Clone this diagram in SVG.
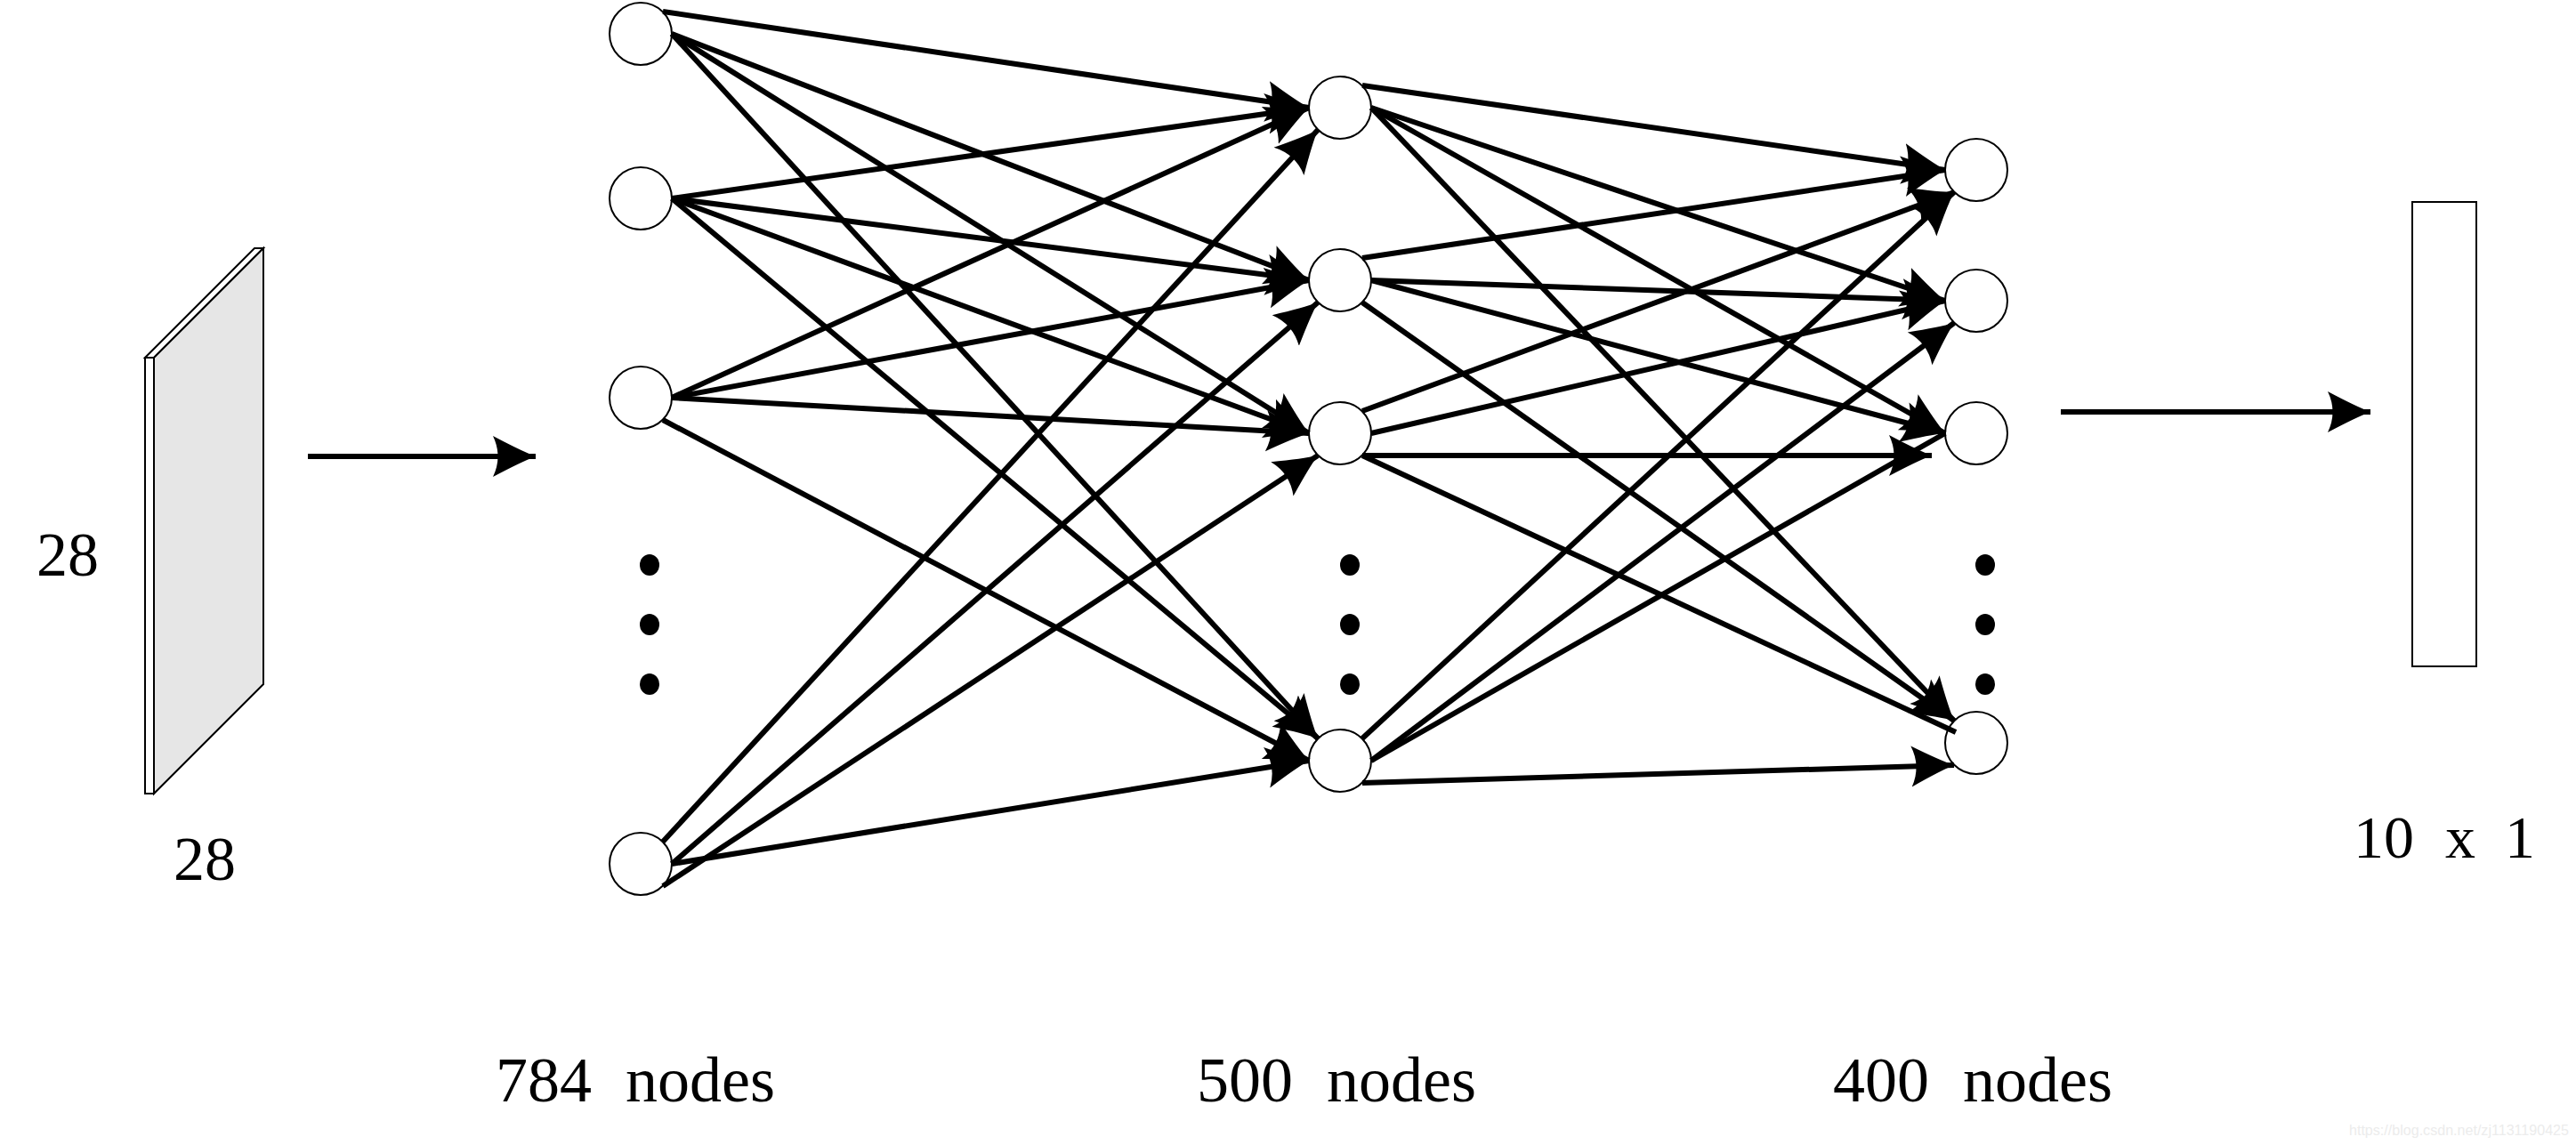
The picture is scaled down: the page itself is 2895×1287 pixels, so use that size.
<svg xmlns="http://www.w3.org/2000/svg" width="2895" height="1287" viewBox="0 0 2895 1287">
<style>
.node{fill:#fff;stroke:#000;stroke-width:2}
.dot{fill:#000}
.edge{fill:none;stroke:#000;stroke-width:6}
.arr{marker-end:url(#head)}
.lbl{font-family:"Liberation Serif","Times New Roman",serif;fill:#000}
.thin{stroke:#000;stroke-width:2;stroke-linejoin:miter}
</style>
<defs>
<marker id="head" markerUnits="userSpaceOnUse" viewBox="0 -25 52 50" markerWidth="52" markerHeight="50" refX="48" refY="0" orient="auto">
<path d="M48,0 Q32,-6 0,-23 Q11,0 0,23 Q32,6 48,0 Z" fill="#000"/>
</marker>
</defs>
<rect width="2895" height="1287" fill="#fff"/>

<g id="input-image">
<polygon class="thin" points="163,402 286,279 296,279 173,402" fill="#fff"/>
<rect class="thin" x="163" y="402" width="10" height="490" fill="#fff"/>
<polygon class="thin" points="173,402 296,279 296,769 173,892" fill="#e6e6e6"/>
<text class="lbl" x="41" y="647" font-size="70">28</text>
<text class="lbl" x="195" y="989" font-size="70">28</text>
</g>

<g id="layer1">
<circle class="node" cx="720" cy="38" r="35"/>
<circle class="node" cx="720" cy="223" r="35"/>
<circle class="node" cx="720" cy="447" r="35"/>
<circle class="node" cx="720" cy="971" r="35"/>
<ellipse class="dot" cx="730" cy="635" rx="11" ry="12"/>
<ellipse class="dot" cx="730" cy="702" rx="11" ry="12"/>
<ellipse class="dot" cx="730" cy="769" rx="11" ry="12"/>
<text class="lbl" x="557" y="1238" font-size="72" word-spacing="20">784 nodes</text>
</g>

<g id="layer2">
<circle class="node" cx="1506" cy="121" r="35"/>
<circle class="node" cx="1506" cy="315" r="35"/>
<circle class="node" cx="1506" cy="487" r="35"/>
<circle class="node" cx="1506" cy="855" r="35"/>
<ellipse class="dot" cx="1517" cy="635" rx="11" ry="12"/>
<ellipse class="dot" cx="1517" cy="702" rx="11" ry="12"/>
<ellipse class="dot" cx="1517" cy="769" rx="11" ry="12"/>
<text class="lbl" x="1345" y="1238" font-size="72" word-spacing="20">500 nodes</text>
</g>

<g id="layer3">
<circle class="node" cx="2221" cy="191" r="35"/>
<circle class="node" cx="2221" cy="338" r="35"/>
<circle class="node" cx="2221" cy="487" r="35"/>
<circle class="node" cx="2221" cy="835" r="35"/>
<ellipse class="dot" cx="2231" cy="635" rx="11" ry="12"/>
<ellipse class="dot" cx="2231" cy="702" rx="11" ry="12"/>
<ellipse class="dot" cx="2231" cy="769" rx="11" ry="12"/>
<text class="lbl" x="2060" y="1238" font-size="72" word-spacing="20">400 nodes</text>
</g>

<g id="output">
<rect class="thin" x="2711" y="227" width="72" height="522" fill="#fff"/>
<text class="lbl" y="964" font-size="68"><tspan x="2645">10</tspan><tspan x="2748">x</tspan><tspan x="2815">1</tspan></text>
</g>

<g id="connectors">
<line class="edge arr" x1="346" y1="513" x2="602" y2="513"/>
<line class="edge arr" x1="2316" y1="463" x2="2664" y2="463"/>

<line class="edge arr" x1="745" y1="13" x2="1471" y2="121"/>
<line class="edge arr" x1="755" y1="38" x2="1471" y2="315"/>
<line class="edge arr" x1="755" y1="38" x2="1471" y2="487"/>
<line class="edge arr" x1="755" y1="38" x2="1481" y2="830"/>
<line class="edge arr" x1="755" y1="223" x2="1471" y2="121"/>
<line class="edge arr" x1="755" y1="223" x2="1471" y2="315"/>
<line class="edge arr" x1="755" y1="223" x2="1471" y2="487"/>
<line class="edge arr" x1="755" y1="223" x2="1481" y2="830"/>
<line class="edge arr" x1="755" y1="447" x2="1471" y2="121"/>
<line class="edge arr" x1="755" y1="447" x2="1471" y2="315"/>
<line class="edge arr" x1="755" y1="447" x2="1471" y2="487"/>
<line class="edge arr" x1="745" y1="472" x2="1471" y2="855"/>
<line class="edge arr" x1="745" y1="946" x2="1481" y2="146"/>
<line class="edge arr" x1="755" y1="971" x2="1481" y2="340"/>
<line class="edge arr" x1="745" y1="996" x2="1481" y2="512"/>
<line class="edge arr" x1="755" y1="971" x2="1471" y2="855"/>

<line class="edge arr" x1="1531" y1="96" x2="2186" y2="191"/>
<line class="edge arr" x1="1541" y1="121" x2="2186" y2="338"/>
<line class="edge arr" x1="1541" y1="121" x2="2186" y2="487"/>
<line class="edge arr" x1="1541" y1="121" x2="2196" y2="810"/>
<line class="edge arr" x1="1531" y1="290" x2="2186" y2="191"/>
<line class="edge arr" x1="1541" y1="315" x2="2186" y2="338"/>
<line class="edge arr" x1="1541" y1="315" x2="2186" y2="487"/>
<line class="edge arr" x1="1531" y1="340" x2="2196" y2="810"/>
<line class="edge arr" x1="1531" y1="462" x2="2196" y2="216"/>
<line class="edge arr" x1="1541" y1="487" x2="2186" y2="338"/>
<line class="edge arr" x1="1531" y1="512" x2="2171" y2="512"/>
<line class="edge" x1="1531" y1="512" x2="2198" y2="823"/>
<line class="edge arr" x1="1531" y1="830" x2="2196" y2="216"/>
<line class="edge arr" x1="1541" y1="855" x2="2196" y2="363"/>
<line class="edge" x1="1541" y1="855" x2="2186" y2="487"/>
<line class="edge arr" x1="1531" y1="880" x2="2196" y2="860"/>
</g>

<text x="2640" y="1276" font-family="Liberation Sans, Arial, sans-serif" font-size="17" fill="#ececec" textLength="247" lengthAdjust="spacingAndGlyphs">https://blog.csdn.net/zj1131190425</text>
</svg>
